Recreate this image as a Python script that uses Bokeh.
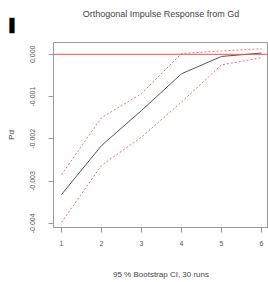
from bokeh.plotting import figure
from bokeh.models import Range1d, FixedTicker, Span, Title
from bokeh.embed import file_html
from bokeh.resources import INLINE

steps = [1, 2, 3, 4, 5, 6]
response = [-0.00332, -0.00216, -0.00133, -0.00046, -0.00005, 0.00003]
upper_ci = [-0.00285, -0.00150, -0.00093, 0.00002, 0.00008, 0.00013]
lower_ci = [-0.00398, -0.00263, -0.00196, -0.00113, -0.00025, -0.00008]
y_ticks = [0.0, -0.001, -0.002, -0.003, -0.004]
y_tick_labels = ["0.000", "-0.001", "-0.002", "-0.003", "-0.004"]

title_text = "Orthogonal Impulse Response from Gd"
x_label = "95 % Bootstrap CI, 30 runs"
y_label = "Pd"
corner_mark = "\u258c"

FONT = "Liberation Sans"
TXT = "#555555"

p = figure(width=268, height=282, output_backend="svg", toolbar_location=None,
           x_range=Range1d(0.8, 6.175), y_range=Range1d(-0.0041, 0.00028),
           min_border_left=53, min_border_right=0, min_border_top=42, min_border_bottom=55,
           title=title_text)
p.background_fill_color = "white"
p.border_fill_color = "white"
p.outline_line_color = "#9a9a9a"
p.outline_line_width = 1
p.xgrid.visible = False
p.ygrid.visible = False

p.title.align = "center"
p.title.text_font = FONT
p.title.text_font_size = "9px"
p.title.text_font_style = "normal"
p.title.text_color = "#444444"
p.title.standoff = -25

p.add_layout(Title(text=corner_mark, align="left", offset=-44, text_font="DejaVu Sans",
                   text_font_size="13px", text_font_style="normal", text_color="black",
                   standoff=19), "above")

for ax in (p.xaxis[0], p.yaxis[0]):
    ax.axis_line_color = "#9a9a9a"
    ax.major_tick_line_color = "#9a9a9a"
    ax.minor_tick_line_color = None
    ax.major_tick_out = 5
    ax.major_tick_in = 0
    ax.major_label_text_font = FONT
    ax.major_label_text_font_size = "7px"
    ax.major_label_text_color = TXT
    ax.axis_label_text_font = FONT
    ax.axis_label_text_font_size = "8px"
    ax.axis_label_text_font_style = "normal"
    ax.axis_label_text_color = "#444444"

p.xaxis.ticker = FixedTicker(ticks=steps)
p.xaxis.major_label_standoff = 8
p.xaxis.axis_label = x_label
p.xaxis.axis_label_standoff = 21
p.yaxis.ticker = FixedTicker(ticks=y_ticks)
p.yaxis.major_label_overrides = {t: s for t, s in zip(y_ticks, y_tick_labels)}
p.yaxis.major_label_orientation = "vertical"
p.yaxis.major_label_standoff = 13
p.yaxis.axis_label = y_label
p.yaxis.axis_label_standoff = 12

p.add_layout(Span(location=0, dimension="width", line_color="#ff4d4d", line_width=1))
p.line(steps, upper_ci, line_color="#ff7070", line_dash="2 2", line_width=1)
p.line(steps, lower_ci, line_color="#ff7070", line_dash="2 2", line_width=1)
p.line(steps, response, line_color="#555555", line_width=1)

open("out.html", "w").write(file_html(p, INLINE))
